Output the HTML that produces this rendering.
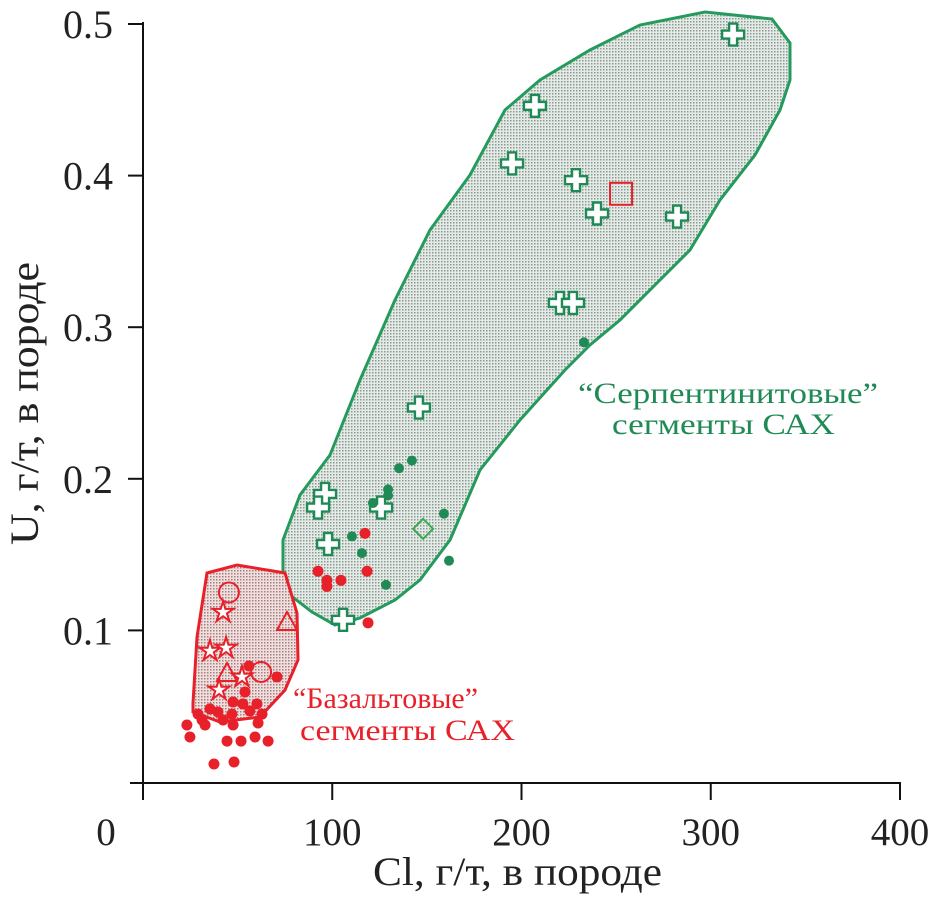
<!DOCTYPE html>
<html><head><meta charset="utf-8"><style>
body{margin:0;background:#fff}
svg{display:block;font-family:"Liberation Serif",serif}
</style></head><body>
<svg id="chart" width="931" height="899" viewBox="0 0 931 899" xmlns="http://www.w3.org/2000/svg">
<defs>
<pattern id="dotsG" width="3" height="3" patternUnits="userSpaceOnUse"><rect width="3" height="3" fill="#e4ebe7"/><rect width="1.5" height="1.5" fill="#8a9a92"/></pattern>
<pattern id="dotsR" width="3" height="3" patternUnits="userSpaceOnUse"><rect width="3" height="3" fill="#f3dede"/><rect width="1.5" height="1.5" fill="#a08080"/></pattern>
</defs>
<path d="M283,580 L283,540 300,495 330,455 360,380 395,300 430,230 470,175 505,110 540,80 590,50 640,25 705,12 772,19 790,43 790,80 780,110 755,155 720,200 690,250 660,280 620,320 590,345 565,370 520,420 480,470 450,540 420,580 395,600 360,618 335,625 312,612 290,595 Z" fill="url(#dotsG)" stroke="#249a5c" stroke-width="3"/>
<path d="M207,573 L237,565 285,573 297,613 298,660 285,690 260,717 220,722 193,712 193,703 197,637 Z" fill="url(#dotsR)" stroke="#e8202a" stroke-width="3"/>
<g id="axes" stroke="#111" stroke-width="2" fill="none">
<line x1="130" y1="783" x2="901" y2="783"/>
<line x1="143" y1="22" x2="143" y2="800"/>
</g>
<g id="ticks"></g>
<g id="marks"></g>
<text x="373" y="885" font-size="40" textLength="289" lengthAdjust="spacingAndGlyphs" fill="#222">Cl, г/т, в породе</text>
<text transform="translate(38,545) rotate(-90)" font-size="40" textLength="283" lengthAdjust="spacingAndGlyphs" fill="#222">U, г/т, в породе</text>
<text x="578" y="403" font-size="30" textLength="300" lengthAdjust="spacingAndGlyphs" fill="#1f8a55">“Серпентинитовые”</text>
<text x="612" y="434" font-size="30" textLength="223" lengthAdjust="spacingAndGlyphs" fill="#1f8a55">сегменты САХ</text>
<text x="293" y="708" font-size="30" textLength="185" lengthAdjust="spacingAndGlyphs" fill="#e8202a">“Базальтовые”</text>
<text x="300" y="740" font-size="30" textLength="215" lengthAdjust="spacingAndGlyphs" fill="#e8202a">сегменты САХ</text>
</svg>
<script>
const xTicks=[0,100,200,300,400];
const yTicks=[0.1,0.2,0.3,0.4,0.5];
const greenCrossX=[311.8,207.1,195,228.8,239.9,282.2,220.3,227.2,145.8,96.2,92.5,125.8,97.8,105.7];
const greenCrossU=[.493,.446,.408,.397,.375,.373,.316,.316,.247,.190,.181,.181,.157,.107];
const greenDotX=[233,110.4,115.7,129.5,129.5,121.5,135.3,142.1,159,161.7,128.4];
const greenDotU=[.290,.162,.151,.193,.189,.184,.207,.212,.177,.146,.130];
const greenDiamondX=[148];const greenDiamondU=[.167];
const redSquareX=[252.6];const redSquareU=[.388];
const redDotX=[117.3,92.5,97.2,97.2,104.6,118.4,118.9,56.0,70.8,53.9,47.6,52.8,60.2,56.5,62.9,47.0,35.4,39.6,29.1,31.2,42.3,47.6,60.8,32.8,23.2,24.8,44.4,51.8,59.2,66.1,37.5,48.1];
const redDotU=[.164,.139,.133,.129,.133,.139,.105,.0765,.0693,.0594,.0528,.0515,.0515,.0468,.0448,.0448,.0482,.0462,.0448,.0409,.0409,.0376,.0389,.0376,.0376,.0297,.0270,.0270,.0297,.0270,.0119,.0132];
const redStarX=[42.3,35.4,43.9,52.3,40.2];
const redStarU=[.112,.0864,.0884,.0693,.0607];
const redCircleX=[45.4,62.4];const redCircleU=[.125,.0726];
const redTriX=[76.1,44.4];const redTriU=[.1055,.0719];

const sx=v=>143+v*1.8925, sy=u=>782-u*1516;
const NS="http://www.w3.org/2000/svg";
const ticks=document.getElementById('ticks'), marks=document.getElementById('marks');
function mk(tag,attrs,parent){const e=document.createElementNS(NS,tag);for(const k in attrs)e.setAttribute(k,attrs[k]);parent.appendChild(e);return e;}
xTicks.forEach(v=>{
 const l=mk('line',{x1:sx(v),x2:sx(v),y1:783,y2:800,stroke:'#111','stroke-width':2},ticks);
 
 
 const t=mk('text',{x:v===0?106:sx(v),y:845,'font-size':39,'text-anchor':'middle',fill:'#222'},ticks);
 t.textContent=v;
 
 
});
yTicks.forEach(v=>{
 const l=mk('line',{x1:128,x2:143,y1:sy(v),y2:sy(v),stroke:'#111','stroke-width':2},ticks);
 
 
 const t=mk('text',{x:113,y:sy(v)+14,'font-size':40,'text-anchor':'end',fill:'#222'},ticks);
 t.textContent=v.toFixed(1);
 
 
});
const G='#1f8a55',R='#e8202a';
greenCrossX.forEach((v,i)=>{
 const x=sx(v),y=sy(greenCrossU[i]),a=4,b=11;
 const p=mk('path',{d:`M${x-a},${y-b}h${2*a}v${b-a}h${b-a}v${2*a}h${a-b}v${b-a}h${-2*a}v${a-b}h${a-b}v${-2*a}h${b-a}Z`,fill:'#fff',stroke:G,'stroke-width':2.4},marks);
 
 
});
greenDotX.forEach((v,i)=>{
 const c=mk('circle',{cx:sx(v),cy:sy(greenDotU[i]),r:5,fill:G},marks);
 
 
});
greenDiamondX.forEach((v,i)=>{
 const x=sx(v),y=sy(greenDiamondU[i]);
 const p=mk('path',{d:`M${x},${y-10}L${x+10},${y}L${x},${y+10}L${x-10},${y}Z`,fill:'none',stroke:'#3aaa50','stroke-width':2},marks);
 
 
});
redSquareX.forEach((v,i)=>{
 const r=mk('rect',{x:sx(v)-11,y:sy(redSquareU[i])-11,width:22,height:22,fill:'none',stroke:R,'stroke-width':2},marks);
 
 
});
redDotX.forEach((v,i)=>{
 const c=mk('circle',{cx:sx(v),cy:sy(redDotU[i]),r:5.5,fill:R},marks);
 
 
});
redStarX.forEach((v,i)=>{
 const x=sx(v),y=sy(redStarU[i]);let d='';
 for(let k=0;k<10;k++){const r=k%2?4:11,a=-Math.PI/2+k*Math.PI/5;d+=(k?'L':'M')+(x+r*Math.cos(a)).toFixed(1)+','+(y+r*Math.sin(a)).toFixed(1);}
 const p=mk('path',{d:d+'Z',fill:'#fff',stroke:R,'stroke-width':2},marks);
 
 
});
redCircleX.forEach((v,i)=>{
 const c=mk('circle',{cx:sx(v),cy:sy(redCircleU[i]),r:10,fill:'none',stroke:R,'stroke-width':2},marks);
 
 
});
redTriX.forEach((v,i)=>{
 const x=sx(v),y=sy(redTriU[i]);
 const p=mk('path',{d:`M${x},${y-10}L${x+10},${y+8}L${x-10},${y+8}Z`,fill:'none',stroke:R,'stroke-width':2},marks);
 
 
});
</script>
</body></html>
